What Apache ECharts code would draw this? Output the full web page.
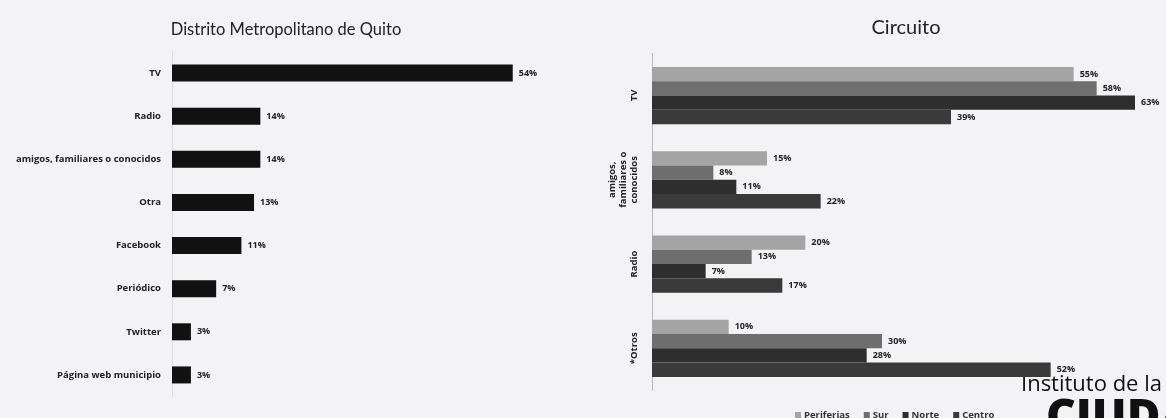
<!DOCTYPE html>
<html>
<head>
<meta charset="utf-8">
<script src="https://cdn.jsdelivr.net/npm/echarts@6/dist/echarts.min.js"></script>
<style>
html,body{margin:0;padding:0;background:#f3f3f6;}
#c{width:1166px;height:418px;}
</style>
</head>
<body>
<div id="c"></div>
<script>
// ---- data ----
const leftTitle = 'Distrito Metropolitano de Quito';
const leftCategories = ['TV', 'Radio', 'amigos, familiares o conocidos', 'Otra', 'Facebook', 'Periódico', 'Twitter', 'Página web municipio'];
const leftValues = [54, 14, 14, 13, 11, 7, 3, 3];

const rightTitle = 'Circuito';
const rightCategories = ['TV', 'amigos,\nfamiliares o\nconocidos', 'Radio', '*Otros'];
const seriesNames = ['Periferias', 'Sur', 'Norte', 'Centro'];
const periferias = [55, 15, 20, 10];
const sur = [58, 8, 13, 30];
const norte = [63, 11, 7, 28];
const centro = [39, 22, 17, 52];
const rightValues = [periferias, sur, norte, centro];

const seriesColors = ['#a4a4a4', '#6e6e6e', '#2e2e2e', '#3a3a3a'];
const FONT = '"Open Sans", sans-serif';

const chart = echarts.init(document.getElementById('c'), null, {renderer: 'canvas'});

const labelStyle = {
  show: true, position: 'right', distance: 6,
  formatter: p => p.value + '%',
  fontFamily: FONT, fontSize: 9, fontWeight: 'bold', color: '#222'
};

const series = [{
  type: 'bar', xAxisIndex: 0, yAxisIndex: 0,
  data: leftValues, barWidth: 17,
  itemStyle: {color: '#111'},
  label: labelStyle
}];
seriesNames.forEach((n, i) => {
  series.push({
    type: 'bar', name: n, xAxisIndex: 1, yAxisIndex: 1,
    data: rightValues[i],
    barGap: '0%', barCategoryGap: '32%',
    itemStyle: {color: seriesColors[i]},
    label: labelStyle
  });
});

chart.setOption({
  backgroundColor: '#f3f3f6',
  animation: false,
  title: [
    {text: leftTitle, left: 281, top: 16, textAlign: 'center',
     textStyle: {fontFamily: 'Lato, sans-serif', fontSize: 16.5, fontWeight: 'normal', color: '#222'}},
    {text: rightTitle, left: 901, top: 13, textAlign: 'center',
     textStyle: {fontFamily: 'Lato, sans-serif', fontSize: 20, fontWeight: 'normal', color: '#222'}}
  ],
  legend: {
    data: seriesNames, left: 790, top: 405,
    itemWidth: 6, itemHeight: 6, itemGap: 14, icon: 'rect',
    textStyle: {fontFamily: FONT, fontSize: 9.5, fontWeight: 'bold', color: '#333', padding: [0, 0, 0, -2]}
  },
  grid: [
    {left: 172, top: 51.5, width: 378.6, height: 345},
    {left: 652, top: 53.4, width: 506, height: 337}
  ],
  xAxis: [
    {gridIndex: 0, type: 'value', min: 0, max: 60, show: false},
    {gridIndex: 1, type: 'value', min: 0, max: 66, show: false}
  ],
  yAxis: [
    {gridIndex: 0, type: 'category', data: leftCategories, inverse: true,
     axisLine: {show: true, lineStyle: {color: '#dcdce2', width: 1}},
     axisTick: {show: false},
     axisLabel: {fontFamily: FONT, fontSize: 9.5, fontWeight: 'bold', color: '#222', margin: 11}},
    {gridIndex: 1, type: 'category', data: rightCategories, inverse: true,
     axisLine: {show: true, lineStyle: {color: '#b8b8b8', width: 1}},
     axisTick: {show: false},
     axisLabel: {fontFamily: FONT, fontSize: 9.5, fontWeight: 'bold', color: '#222', margin: 12,
                 rotate: 90, lineHeight: 11}}
  ],
  graphic: [
    {type: 'text', left: 1021, top: 374,
     style: {text: 'Instituto de la', fontFamily: FONT, fontSize: 22, fill: '#111'}},
    {type: 'text', left: 1046, top: 396,
     style: {text: 'CIUDAD', fontFamily: FONT, fontSize: 46, fontWeight: 800, fill: '#111'}}
  ],
  series: series
});
</script>
</body>
</html>
